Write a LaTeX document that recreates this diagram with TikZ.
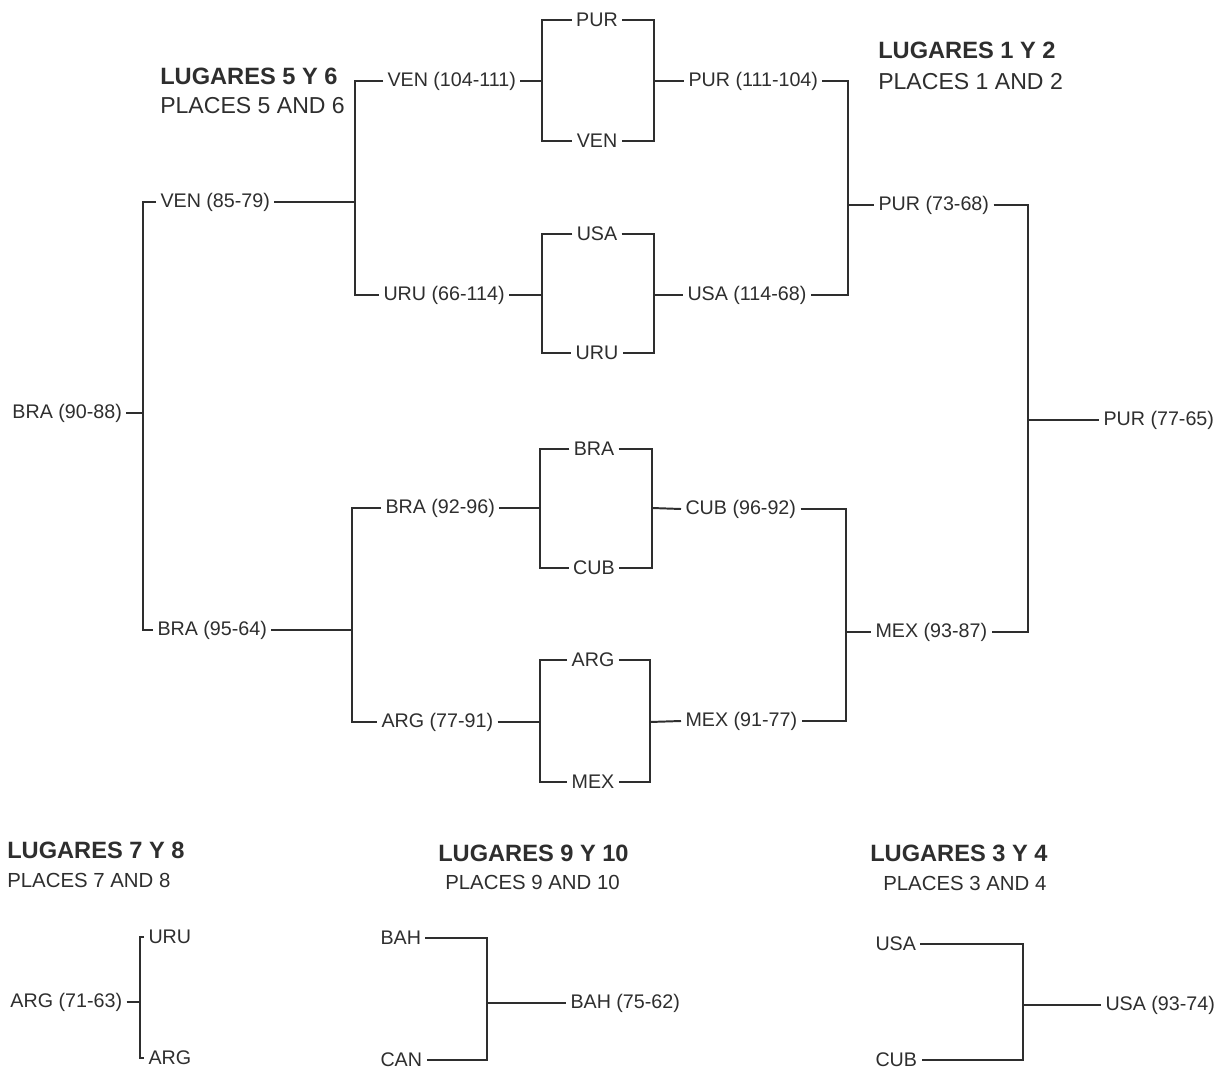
\documentclass[tikz,border=0pt]{standalone}
\usepackage{fontspec}
\setmainfont{Liberation Sans}
\usepackage{tikz}
\definecolor{ink}{HTML}{2E2E2E}
\tikzstyle{team} = [font=\fontsize{14}{16}\selectfont, text=ink, inner xsep=3pt, inner ysep=1pt, anchor=west]
\tikzstyle{pair} = [font=\fontsize{14}{16}\selectfont, text=ink, inner xsep=3pt, inner ysep=1pt]
\tikzstyle{head} = [font=\bfseries\fontsize{16.8}{19}\selectfont, text=ink, inner sep=0pt, anchor=west]
\tikzstyle{sub} = [font=\fontsize{16.4}{19}\selectfont, text=ink, inner sep=0pt, anchor=west]
\tikzstyle{subsmall} = [font=\fontsize{14.5}{17}\selectfont, text=ink, inner sep=0pt, anchor=west]
\tikzstyle{line} = [draw=ink, line width=1.4pt]

\begin{document}
\begin{tikzpicture}[x=0.025cm, y=-0.025cm]
                            \useasboundingbox[fill=white] (0,0) rectangle (1232,1072);
                            % headers
                            \node[head] (h56) at (160,76) {LUGARES 5 Y 6};
                            \node[sub] (p56) at (160,106) {PLACES 5 AND 6};
                            \node[head] (h12) at (878,50) {LUGARES 1 Y 2};
                            \node[sub] (p12) at (878,82) {PLACES 1 AND 2};
                            \node[head] (h78) at (7,850) {LUGARES 7 Y 8};
                            \node[subsmall] (p78) at (7,880) {PLACES 7 AND 8};
                            \node[head] (h910) at (438,853) {LUGARES 9 Y 10};
                            \node[subsmall] (p910) at (445,882) {PLACES 9 AND 10};
                            \node[head] (h34) at (870,853) {LUGARES 3 Y 4};
                            \node[subsmall] (p34) at (883,883) {PLACES 3 AND 4};
                            % left side
                            \node[team] (bra90) at (8,413) {BRA (90-88)};
                            \node[team] (ven85) at (156,202) {VEN (85-79)};
                            \node[team] (bra95) at (153,630) {BRA (95-64)};
                            \node[team] (ven104) at (383,81) {VEN (104-111)};
                            \node[team] (uru66) at (379,295) {URU (66-114)};
                            \node[team] (bra92) at (381,508) {BRA (92-96)};
                            \node[team] (arg77) at (377,722) {ARG (77-91)};
                            % semifinal boxes
                            \node[pair] (pur1) at (597,20) {PUR};
                            \node[pair] (ven1) at (597,141) {VEN};
                            \node[pair] (usa1) at (597,234) {USA};
                            \node[pair] (uru1) at (597,353) {URU};
                            \node[pair] (bra1) at (594,449) {BRA};
                            \node[pair] (cub1) at (594,568) {CUB};
                            \node[pair] (arg1) at (593,660) {ARG};
                            \node[pair] (mex1) at (593,782) {MEX};
                            % right side
                            \node[team] (pur111) at (684,81) {PUR (111-104)};
                            \node[team] (usa114) at (683,295) {USA (114-68)};
                            \node[team] (cub96) at (681,509) {CUB (96-92)};
                            \node[team] (mex91) at (681,721) {MEX (91-77)};
                            \node[team] (pur73) at (874,205) {PUR (73-68)};
                            \node[team] (mex93) at (871,632) {MEX (93-87)};
                            \node[team] (pur77) at (1099,420) {PUR (77-65)};
                            % bottom
                            \node[team] (arg71) at (6,1002) {ARG (71-63)};
                            \node[team] (uru2) at (144,937) {URU};
                            \node[team] (arg2) at (144,1058) {ARG};
                            \node[team] (bah) at (376,938) {BAH};
                            \node[team] (can) at (376,1060) {CAN};
                            \node[team] (bah75) at (566,1003) {BAH (75-62)};
                            \node[team] (usa2) at (871,944) {USA};
                            \node[team] (cub2) at (871,1060) {CUB};
                            \node[team] (usa93) at (1101,1005) {USA (93-74)};
                            % bracket joints
                            \coordinate (j1) at (143,413);
                            \coordinate (j2) at (355,202);
                            \coordinate (j3) at (352,630);
                            \coordinate (b1l) at (542,81);
                            \coordinate (b1r) at (654,81);
                            \coordinate (b2l) at (542,295);
                            \coordinate (b2r) at (654,295);
                            \coordinate (b3l) at (540,508);
                            \coordinate (b3r) at (652,508);
                            \coordinate (b4l) at (540,722);
                            \coordinate (b4r) at (650,722);
                            \coordinate (j4) at (848,205);
                            \coordinate (j5) at (846,632);
                            \coordinate (j6) at (1028,420);
                            \coordinate (j7) at (140,1002);
                            \coordinate (j8) at (487,1003);
                            \coordinate (j9) at (1023,1005);
                            % connectors
                            \draw[line] (bra90.east) -- (j1);
                            \draw[line] (ven85.west) -| (j1) |- (bra95.west);
                            \draw[line] (ven85.east) -- (j2);
                            \draw[line] (ven104.west) -| (j2) |- (uru66.west);
                            \draw[line] (bra95.east) -- (j3);
                            \draw[line] (bra92.west) -| (j3) |- (arg77.west);
                            \draw[line] (pur1.west) -| (b1l) |- (ven1.west);
                            \draw[line] (pur1.east) -| (b1r) |- (ven1.east);
                            \draw[line] (usa1.west) -| (b2l) |- (uru1.west);
                            \draw[line] (usa1.east) -| (b2r) |- (uru1.east);
                            \draw[line] (bra1.west) -| (b3l) |- (cub1.west);
                            \draw[line] (bra1.east) -| (b3r) |- (cub1.east);
                            \draw[line] (arg1.west) -| (b4l) |- (mex1.west);
                            \draw[line] (arg1.east) -| (b4r) |- (mex1.east);
                            \draw[line] (ven104.east) -- (b1l);
                            \draw[line] (uru66.east) -- (b2l);
                            \draw[line] (bra92.east) -- (b3l);
                            \draw[line] (arg77.east) -- (b4l);
                            \draw[line] (b1r) -- (pur111.west);
                            \draw[line] (b2r) -- (usa114.west);
                            \draw[line] (b3r) -- (cub96.west);
                            \draw[line] (b4r) -- (mex91.west);
                            \draw[line] (pur111.east) -| (j4) |- (usa114.east);
                            \draw[line] (j4) -- (pur73.west);
                            \draw[line] (cub96.east) -| (j5) |- (mex91.east);
                            \draw[line] (j5) -- (mex93.west);
                            \draw[line] (pur73.east) -| (j6) |- (mex93.east);
                            \draw[line] (j6) -- (pur77.west);
                            \draw[line] (uru2.west) -| (j7) |- (arg2.west);
                            \draw[line] (arg71.east) -- (j7);
                            \draw[line] (bah.east) -| (j8) |- (can.east);
                            \draw[line] (j8) -- (bah75.west);
                            \draw[line] (usa2.east) -| (j9) |- (cub2.east);
                            \draw[line] (j9) -- (usa93.west);
                        \end{tikzpicture}
\end{document}
